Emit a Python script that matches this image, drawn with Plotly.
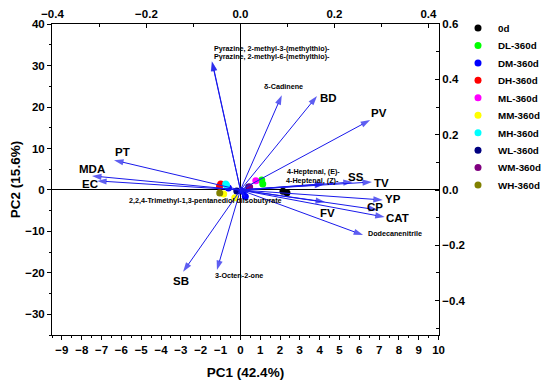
import plotly.graph_objects as go

# ---------------- data ----------------
# Loadings (top / right axes)
var_names = ["Pyrazine, 2-methyl-3-(methylthio)-", "Pyrazine, 2-methyl-6-(methylthio)-",
             "δ-Cadinene", "BD", "PV", "4-Heptenal, (E)-", "4-Heptenal, (Z)-",
             "SS", "TV", "YP", "CP", "CAT", "FV", "Dodecanenitrile",
             "PT", "MDA", "EC", "SB", "3-Octen-2-one",
             "2,2,4-Trimethyl-1,3-pentanediol diisobutyrate"]
load_pc1 = [-0.061, -0.060, 0.088, 0.163, 0.276, 0.180, 0.178,
            0.239, 0.280, 0.303, 0.293, 0.307, 0.180, 0.261,
            -0.269, -0.316, -0.305, -0.122, -0.050, 0.010]
load_pc2 = [0.466, 0.464, 0.343, 0.340, 0.253, 0.023, 0.020,
            0.029, 0.029, -0.036, -0.072, -0.098, -0.043, -0.163,
            0.108, 0.051, 0.033, -0.296, -0.289, -0.025]

# Scores (bottom / left axes)
groups = ["0d", "DL-360d", "DM-360d", "DH-360d", "ML-360d",
          "MM-360d", "MH-360d", "WL-360d", "WM-360d", "WH-360d"]
score_pc1 = [[2.15, 2.35], [1.08, 1.13], [-0.6, 0.15, 0.25], [-0.99, -1.05], [0.78],
             [-0.84, -0.28], [-0.74, -0.70], [-0.18, 0.42], [0.47], [-1.04]]
score_pc2 = [[-0.3, -0.7], [2.4, 1.45], [0.5, -0.4, -1.6], [1.45, 0.9], [2.2],
             [-0.96, -1.9], [1.45, 1.2], [-0.24, 0.7], [0.7], [-0.72]]

# ---------------- style ----------------
group_colors = ["#000000", "#00ff00", "#0000ff", "#ff0000", "#ff00ff",
                "#ffff00", "#00ffff", "#000080", "#800080", "#808000"]
big = {"BD", "PV", "SS", "TV", "YP", "CP", "CAT", "FV", "PT", "MDA", "EC", "SB"}
# label offsets in pixels (dx, dy, anchor)
label_off = {
    "Pyrazine, 2-methyl-3-(methylthio)-": (0, 13, "left"),
    "Pyrazine, 2-methyl-6-(methylthio)-": (0, 5, "left"),
    "δ-Cadinene": (2, 9, "center"),
    "BD": (1, -2, "left"),
    "PV": (9, 7, "center"),
    "4-Heptenal, (E)-": (-12, 12, "center"),
    "4-Heptenal, (Z)-": (-12, 4, "center"),
    "SS": (3, 5, "center"),
    "TV": (9, -1, "center"),
    "YP": (10, 1, "center"),
    "CP": (-3, 3, "center"),
    "CAT": (13, -1, "center"),
    "FV": (2, -11, "center"),
    "Dodecanenitrile": (3, 2, "left"),
    "PT": (8, 8, "center"),
    "MDA": (0, 7, "center"),
    "EC": (-7, -3, "center"),
    "SB": (-2, -9, "center"),
    "3-Octen-2-one": (-4, -6, "left"),
    "2,2,4-Trimethyl-1,3-pentanediol diisobutyrate": (-40, -4, "center"),
}
arrow_color = "rgb(25,25,235)"
FONT = "Arial, Liberation Sans, sans-serif"

fig = go.Figure()

# arrows (loadings)
for name, lx, ly in zip(var_names, load_pc1, load_pc2):
    fig.add_trace(go.Scatter(
        x=[0, lx], y=[0, ly], xaxis="x2", yaxis="y2",
        mode="lines+markers", showlegend=False, hoverinfo="skip",
        line=dict(color=arrow_color, width=1),
        marker=dict(symbol=["circle", "arrow"], size=[0, 10], angleref="previous",
                    color=arrow_color, line=dict(width=0)),
    ))
    dx, dy, anc = label_off[name]
    fig.add_annotation(
        x=lx, y=ly, xref="x2", yref="y2", text=name, showarrow=False,
        xshift=dx, yshift=dy, xanchor=anc, yanchor="middle",
        font=dict(family=FONT, size=11.5 if name in big else 7.2, color="black", weight="bold"),
    )

# figure geometry: plot box is 387 x 311 px with l=44, t=16
# (the page body adds an 8px offset, so the box lands at x 52..439, y 24..335)
FIG_W, FIG_H = 560, 388
M_L, M_T, P_W, P_H = 44, 16, 387, 311

# score points, each with its own legend box for exact spacing
legend_font = dict(family=FONT, size=9.8, weight="bold", color="black")
legend_layout = {}
for i, (g, c, xs, ys) in enumerate(zip(groups, group_colors, score_pc1, score_pc2)):
    lname = "legend" if i == 0 else f"legend{i + 1}"
    fig.add_trace(go.Scatter(
        x=xs, y=ys, mode="markers", name=g, legend=lname,
        marker=dict(color=c, size=7, line=dict(width=0)),
    ))
    legend_layout[lname] = dict(x=(450 - M_L) / P_W, y=1 - (20 + 17.45 * i - M_T) / P_H,
                                xanchor="left", yanchor="middle",
                                font=legend_font, bgcolor="rgba(0,0,0,0)", itemwidth=30)

tickfont = dict(family=FONT, size=11.5, color="black", weight="bold")
axis_common = dict(showgrid=False, showline=True, linecolor="black", linewidth=1,
                   tickcolor="black", tickwidth=1, tickfont=tickfont, automargin=False)

fig.update_layout(
    width=FIG_W, height=FIG_H,
    margin=dict(l=M_L, r=FIG_W - M_L - P_W, t=M_T, b=FIG_H - M_T - P_H, autoexpand=False),
    paper_bgcolor="white", plot_bgcolor="white",
    font=dict(family=FONT, color="black"),
    xaxis=dict(range=[-9.5, 10.02], dtick=1, tick0=0, ticks="outside", ticklen=4,
               minor=dict(dtick=0.5, ticks="outside", ticklen=2, tickcolor="black"),
               zeroline=True, zerolinecolor="black", zerolinewidth=1,
               title=dict(text="PC1 (42.4%)", font=dict(family=FONT, size=13.5, weight="bold"), standoff=12),
               **axis_common),
    yaxis=dict(range=[-35, 40.05], dtick=10, tick0=0, ticks="outside", ticklen=4,
               minor=dict(dtick=5, ticks="outside", ticklen=2, tickcolor="black"),
               zeroline=True, zerolinecolor="black", zerolinewidth=1,
               title=dict(text="PC2 (15.6%)", font=dict(family=FONT, size=13.5, weight="bold"), standoff=5),
               **axis_common),
    xaxis2=dict(overlaying="x", side="top", range=[-0.401, 0.4225], dtick=0.2, tick0=0,
                tickformat=".1f", ticks="inside", ticklen=4,
                minor=dict(dtick=0.1, ticks="inside", ticklen=3, tickcolor="black"),
                zeroline=False, **axis_common),
    yaxis2=dict(overlaying="y", side="right", range=[-0.5245, 0.6005], dtick=0.2, tick0=0,
                tickformat=".1f", ticks="inside", ticklen=4,
                minor=dict(dtick=0.1, ticks="inside", ticklen=3, tickcolor="black"),
                zeroline=False, **axis_common),
    **legend_layout,
)

fig.write_html("out.html")
